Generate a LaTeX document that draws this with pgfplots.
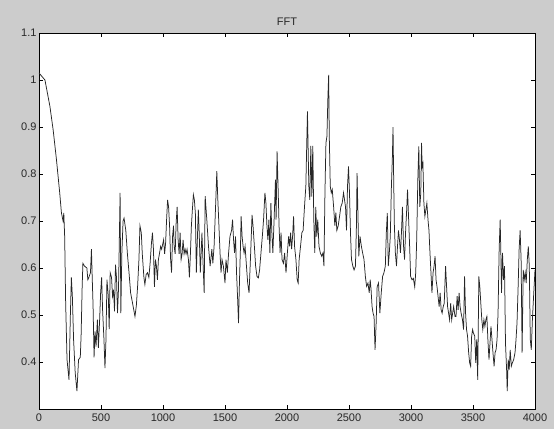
\documentclass[border=0pt]{standalone}
\usepackage{pgfplots}
\pgfplotsset{compat=1.18}
\usepackage{fontspec}
\setmainfont{Liberation Sans}
\definecolor{figgray}{RGB}{204,204,204}
\definecolor{txtgray}{RGB}{40,40,40}
\begin{document}
\begin{tikzpicture}[x=1pt,y=1pt]
\fill[figgray] (0,0) rectangle (554,429);
\begin{axis}[
  at={(39pt,20pt)}, anchor=south west,
  width=496pt, height=376pt, scale only axis,
  xmin=0, xmax=4000, ymin=0.3, ymax=1.1,
  xtick={0,500,1000,1500,2000,2500,3000,3500,4000},
  ytick={0.4,0.5,0.6,0.7,0.8,0.9,1,1.1},
  tick align=inside, major tick length=4pt,
  /pgf/number format/1000 sep={},
  /pgf/number format/assume math mode=true,
  ticklabel style={font=\fontsize{11}{13}\selectfont, text=txtgray},
  xticklabel style={yshift=-1pt},
  yticklabel style={/pgf/number format/fixed, xshift=1pt},
  axis background/.style={fill=white},
  axis line style={black, line width=0.7pt},
  every tick/.style={black, line width=0.6pt},
  title=FFT,
  title style={font=\fontsize{11}{13}\selectfont, text=txtgray, yshift=-2pt},
]
\addplot[black!85, line width=0.75pt, mark=none] coordinates {
(0,1.015)(48,1.0)(88,0.944)(114,0.894)(141,0.83)(167,0.76)(181,0.717)(194,0.70)(200,0.717)(207,0.667)(215,0.525)(226,0.405)(242,0.362)(253,0.50)(261,0.58)(269,0.54)(279,0.447)(292,0.377)(306,0.338)(319,0.405)(333,0.41)(340,0.46)(348,0.56)(354,0.61)(367,0.604)(386,0.60)(394,0.575)(402,0.58)(415,0.59)(423,0.64)(428,0.59)(436,0.52)(444,0.41)(452,0.465)(460,0.433)(471,0.49)(479,0.43)(489,0.49)(497,0.547)(505,0.58)(513,0.51)(524,0.447)(532,0.387)(540,0.447)(548,0.575)(559,0.54)(566,0.47)(574,0.59)(585,0.58)(593,0.54)(601,0.554)(609,0.508)(617,0.607)(625,0.58)(633,0.504)(641,0.554)(646,0.63)(654,0.76)(660,0.504)(668,0.63)(678,0.70)(686,0.706)(700,0.68)(713,0.63)(726,0.59)(739,0.547)(758,0.52)(774,0.497)(785,0.52)(795,0.56)(806,0.618)(814,0.69)(825,0.675)(833,0.63)(846,0.58)(854,0.565)(864,0.586)(875,0.59)(886,0.58)(896,0.61)(907,0.653)(915,0.675)(923,0.64)(931,0.56)(939,0.618)(947,0.604)(955,0.575)(963,0.618)(971,0.63)(981,0.646)(989,0.64)(997,0.65)(1005,0.66)(1013,0.63)(1021,0.653)(1029,0.703)(1037,0.745)(1045,0.73)(1053,0.69)(1061,0.62)(1069,0.59)(1077,0.667)(1085,0.69)(1090,0.646)(1098,0.63)(1106,0.696)(1114,0.73)(1122,0.66)(1130,0.63)(1138,0.675)(1146,0.618)(1154,0.63)(1162,0.66)(1170,0.63)(1178,0.64)(1186,0.63)(1194,0.64)(1205,0.618)(1213,0.58)(1221,0.63)(1229,0.69)(1237,0.724)(1245,0.756)(1253,0.745)(1261,0.717)(1269,0.59)(1277,0.66)(1285,0.724)(1292,0.675)(1301,0.59)(1309,0.64)
(1314,0.675)(1332,0.547)(1340,0.753)(1354,0.70)(1367,0.646)(1380,0.604)(1394,0.64)(1402,0.61)(1412,0.646)(1426,0.745)(1434,0.806)(1441,0.753)(1449,0.703)(1460,0.632)(1468,0.59)(1476,0.618)(1487,0.604)(1500,0.568)(1508,0.618)(1519,0.59)(1529,0.632)(1540,0.667)(1553,0.68)(1561,0.703)(1569,0.66)(1577,0.632)(1585,0.667)(1593,0.59)(1601,0.54)(1609,0.483)(1617,0.575)(1625,0.646)(1630,0.71)(1638,0.667)(1646,0.646)(1654,0.632)(1662,0.646)(1673,0.604)(1683,0.568)(1694,0.547)(1705,0.618)(1713,0.675)(1718,0.713)(1726,0.69)(1737,0.646)(1747,0.604)(1758,0.582)(1769,0.579)(1779,0.596)(1790,0.632)(1801,0.667)(1811,0.703)(1822,0.76)(1830,0.738)(1838,0.69)(1846,0.66)(1854,0.703)(1862,0.632)(1870,0.738)(1878,0.675)(1886,0.632)(1896,0.703)(1907,0.788)(1912,0.703)(1920,0.848)(1928,0.774)(1936,0.69)(1944,0.632)(1952,0.675)(1960,0.618)(1971,0.61)(1981,0.632)(1992,0.59)(2003,0.632)(2013,0.667)(2021,0.646)(2029,0.675)(2037,0.64)(2045,0.667)(2053,0.71)(2061,0.646)(2072,0.618)(2082,0.575)(2090,0.568)(2098,0.618)(2109,0.646)(2120,0.675)(2130,0.68)(2141,0.73)(2152,0.774)(2160,0.873)(2165,0.933)(2170,0.86)(2176,0.774)(2184,0.745)(2192,0.86)(2200,0.752)(2208,0.86)(2216,0.703)(2224,0.632)(2232,0.73)(2240,0.667)(2248,0.703)(2258,0.646)(2269,0.632)(2280,0.625)(2290,0.632)(2298,0.604)(2306,0.76)(2314,0.866)(2322,0.88)(2330,0.965)(2336,1.011)(2341,0.88)(2349,0.774)(2357,0.76)(2365,0.767)(2376,0.73)(2386,0.69)(2394,0.718)(2402,0.68)(2413,0.69)(2424,0.71)(2434,0.73)(2445,0.738)(2456,0.76)(2464,0.745)(2472,0.73)(2480,0.68)(2488,0.774)(2496,0.816)(2504,0.76)(2512,0.675)(2520,0.618)(2531,0.604)(2541,0.596)(2552,0.604)(2560,0.69)(2565,0.802)(2571,0.73)(2579,0.625)(2589,0.667)(2600,0.646)(2610,0.632)(2621,0.618)(2632,0.582)(2642,0.561)(2653,0.568)(2663,0.547)(2671,0.575)(2678,0.554)(2686,0.518)(2694,0.504)
(2702,0.497)(2710,0.426)(2719,0.483)(2727,0.56)(2738,0.568)(2749,0.504)(2760,0.547)(2771,0.582)(2782,0.59)(2793,0.604)(2801,0.675)(2809,0.717)(2817,0.604)(2825,0.632)(2833,0.667)(2842,0.774)(2850,0.837)(2855,0.90)(2861,0.774)(2866,0.69)(2874,0.632)(2883,0.604)(2891,0.646)(2899,0.68)(2907,0.66)(2915,0.632)(2923,0.675)(2931,0.73)(2940,0.646)(2948,0.618)(2956,0.675)(2964,0.717)(2972,0.767)(2981,0.703)(2989,0.646)(2997,0.582)(3008,0.575)(3019,0.578)(3030,0.56)(3038,0.59)(3046,0.66)(3055,0.788)(3063,0.859)(3071,0.73)(3079,0.76)(3085,0.866)(3090,0.816)(3096,0.823)(3104,0.738)(3112,0.71)(3120,0.724)(3128,0.738)(3137,0.703)(3145,0.68)(3153,0.632)(3161,0.59)(3169,0.547)(3178,0.59)(3186,0.604)(3194,0.625)(3202,0.575)(3210,0.56)(3218,0.54)(3227,0.518)(3235,0.547)(3243,0.511)(3251,0.504)(3260,0.518)(3268,0.525)(3279,0.604)(3287,0.56)(3295,0.518)(3303,0.504)(3311,0.49)(3320,0.525)(3328,0.49)(3336,0.504)(3344,0.518)(3355,0.497)(3363,0.497)(3372,0.54)(3380,0.511)(3388,0.547)(3396,0.518)(3404,0.504)(3415,0.49)(3424,0.469)(3432,0.582)(3440,0.504)(3448,0.469)(3456,0.455)(3465,0.42)(3473,0.398)(3481,0.391)(3489,0.455)(3497,0.469)(3503,0.462)(3514,0.455)(3522,0.398)(3530,0.448)(3538,0.362)(3547,0.582)(3555,0.56)(3563,0.525)(3571,0.49)(3579,0.469)(3588,0.49)(3596,0.476)(3604,0.49)(3612,0.497)(3620,0.448)(3629,0.405)(3637,0.44)(3645,0.476)(3653,0.448)(3661,0.42)(3670,0.391)(3678,0.42)(3686,0.426)(3694,0.448)(3702,0.504)(3711,0.64)(3719,0.703)(3724,0.64)(3730,0.547)(3738,0.632)(3746,0.575)(3754,0.604)(3762,0.44)(3771,0.384)(3776,0.338)(3784,0.405)(3792,0.384)(3800,0.426)(3809,0.391)(3817,0.398)(3828,0.405)(3839,0.42)(3847,0.448)(3855,0.483)(3864,0.56)(3872,0.64)(3880,0.68)(3888,0.618)(3896,0.42)(3905,0.596)(3913,0.575)(3921,0.59)(3929,0.568)(3938,0.618)(3946,0.646)(3954,0.604)(3962,0.448)(3970,0.426)(3979,0.49)(3990,0.547)(4000,0.596)
};
\end{axis}
\end{tikzpicture}
\end{document}
